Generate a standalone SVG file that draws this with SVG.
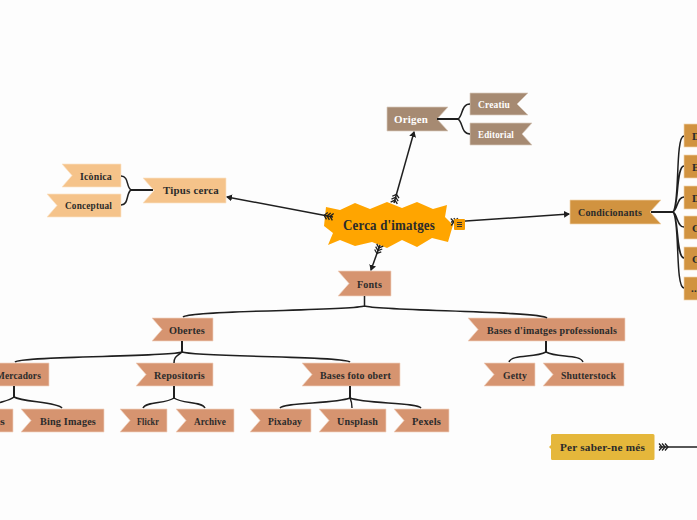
<svg xmlns="http://www.w3.org/2000/svg" width="697" height="520" viewBox="0 0 697 520">
<style>
text{font-family:"Liberation Serif",serif;font-weight:700;font-size:11px;fill:#2b2b2b;letter-spacing:.2px}
.w{fill:#fff}
.big{font-size:15px}
.or{fill:#a68a72;stroke:#d8cabd;stroke-width:.7}
.ti{fill:#f5c38a;stroke:#fbe3c6;stroke-width:.7}
.co{fill:#d19340;stroke:#f0d4ac;stroke-width:.7}
.fo{fill:#d69470;stroke:#f1d2c0;stroke-width:.7}
.ln{fill:none;stroke:#1f1f1f;stroke-width:1.5}
.tr{fill:none;stroke:#1f1f1f;stroke-width:2}
.ar{fill:none;stroke:#1f1f1f;stroke-width:1.5;marker-start:url(#fe);marker-end:url(#ah)}
</style>
<defs>
<marker id="ah" markerUnits="userSpaceOnUse" markerWidth="8" markerHeight="8" refX="5" refY="3.5" orient="auto"><path d="M0 0L6 3.500L0 7Z" fill="#1f1f1f"/></marker>
<marker id="fe" markerUnits="userSpaceOnUse" markerWidth="12" markerHeight="10" refX="1" refY="5" orient="auto"><path d="M1 1.500L4 5L1 8.500M4 1.500L7 5L4 8.500M7 1.500L10 5L7 8.500" fill="none" stroke="#1f1f1f" stroke-width="1.300"/></marker>
</defs>
<rect width="697" height="520" fill="#fdfdfd"/>
<g id="central">
<polygon points="324,226 326,207 340,210 355,203 370,209 387,202 402,208 417,202 433,209 447,205 445,217 453,225 448,242 432,238 417,247 402,240 387,248 372,242 355,246 340,240 328,245 333,233" fill="#ffa500"/>
<text class="big" x="343" y="230" textLength="92" lengthAdjust="spacingAndGlyphs">Cerca d'imatges</text>
</g>
<g id="origen"><polygon class="or" points="387,107 448,107 437,119 448,131 387,131"/><text class="w" x="394" y="123" textLength="34" lengthAdjust="spacingAndGlyphs">Origen</text></g>
<g id="creatiu"><polygon class="or" points="470,93 528,93 517,104 528,115 470,115"/><text class="w" x="478" y="108" textLength="32" lengthAdjust="spacingAndGlyphs">Creatiu</text></g>
<g id="editorial"><polygon class="or" points="470,123 532,123 522,134 532,145 470,145"/><text class="w" x="478" y="138" textLength="36" lengthAdjust="spacingAndGlyphs">Editorial</text></g>
<g id="tipus"><polygon class="ti" points="143,178 226,178 226,203 143,203 154,190.500"/><text x="163" y="194" textLength="56" lengthAdjust="spacingAndGlyphs">Tipus cerca</text></g>
<g id="iconica"><polygon class="ti" points="62,164 121,164 121,187 62,187 72,175.500"/><text x="80" y="180" textLength="32" lengthAdjust="spacingAndGlyphs">Icònica</text></g>
<g id="conceptual"><polygon class="ti" points="47,194 121,194 121,217 47,217 57,205.500"/><text x="65" y="209" textLength="47" lengthAdjust="spacingAndGlyphs">Conceptual</text></g>
<g id="condicionants"><polygon class="co" points="570,200 661,200 650,212 661,224 570,224"/><text x="578" y="216" textLength="64" lengthAdjust="spacingAndGlyphs">Condicionants</text></g>
<g id="c1"><rect class="co" x="684" y="124" width="20" height="23"/><text x="692" y="140">D</text></g>
<g id="c2"><rect class="co" x="684" y="155" width="20" height="23"/><text x="692" y="171">E</text></g>
<g id="c3"><rect class="co" x="684" y="186" width="20" height="23"/><text x="692" y="202">D</text></g>
<g id="c4"><rect class="co" x="684" y="216" width="20" height="23"/><text x="692" y="232">C</text></g>
<g id="c5"><rect class="co" x="684" y="247" width="20" height="23"/><text x="692" y="263">C</text></g>
<g id="c6"><rect class="co" x="684" y="277" width="20" height="23"/><text x="691" y="292">...</text></g>
<g id="fonts"><polygon class="fo" points="338,271 391,271 391,296 338,296 349,283.500"/><text x="357" y="288" textLength="25" lengthAdjust="spacingAndGlyphs">Fonts</text></g>
<g id="obertes"><polygon class="fo" points="152,318 213,318 213,341 152,341 162,329.500"/><text x="169" y="334" textLength="36" lengthAdjust="spacingAndGlyphs">Obertes</text></g>
<g id="mercadors"><polygon class="fo" points="-10,363 49,363 49,386 -10,386"/><text x="-4" y="379" textLength="45" lengthAdjust="spacingAndGlyphs">Mercadors</text></g>
<g id="repositoris"><polygon class="fo" points="136,363 213,363 213,386 136,386 146,374.500"/><text x="154" y="379" textLength="51" lengthAdjust="spacingAndGlyphs">Repositoris</text></g>
<g id="basesfoto"><polygon class="fo" points="302,363 400,363 400,386 302,386 312,374.500"/><text x="320" y="379" textLength="71" lengthAdjust="spacingAndGlyphs">Bases foto obert</text></g>
<g id="cropped"><polygon class="fo" points="-10,409 13,409 13,432 -10,432"/><text x="0" y="425" textLength="5" lengthAdjust="spacingAndGlyphs">s</text></g>
<g id="bing"><polygon class="fo" points="21,409 104,409 104,432 21,432 31,420.500"/><text x="40" y="425" textLength="56" lengthAdjust="spacingAndGlyphs">Bing Images</text></g>
<g id="flickr"><polygon class="fo" points="120,409 167,409 167,432 120,432 130,420.500"/><text x="137" y="425" textLength="22" lengthAdjust="spacingAndGlyphs">Flickr</text></g>
<g id="archive"><polygon class="fo" points="176,409 234,409 234,432 176,432 186,420.500"/><text x="194" y="425" textLength="32" lengthAdjust="spacingAndGlyphs">Archive</text></g>
<g id="pixabay"><polygon class="fo" points="250,409 311,409 311,432 250,432 260,420.500"/><text x="268" y="425" textLength="34" lengthAdjust="spacingAndGlyphs">Pixabay</text></g>
<g id="unsplash"><polygon class="fo" points="319,409 386,409 386,432 319,432 329,420.500"/><text x="337" y="425" textLength="41" lengthAdjust="spacingAndGlyphs">Unsplash</text></g>
<g id="pexels"><polygon class="fo" points="394,409 449,409 449,432 394,432 404,420.500"/><text x="412" y="425" textLength="29" lengthAdjust="spacingAndGlyphs">Pexels</text></g>
<g id="basesprof"><polygon class="fo" points="468,318 625,318 625,341 468,341 478,329.500"/><text x="487" y="334" textLength="130" lengthAdjust="spacingAndGlyphs">Bases d'imatges professionals</text></g>
<g id="getty"><polygon class="fo" points="484,363 535,363 535,386 484,386 494,374.500"/><text x="503" y="379" textLength="24" lengthAdjust="spacingAndGlyphs">Getty</text></g>
<g id="shutterstock"><polygon class="fo" points="543,363 624,363 624,386 543,386 553,374.500"/><text x="561" y="379" textLength="55" lengthAdjust="spacingAndGlyphs">Shutterstock</text></g>
<g id="persaber"><path d="M552.500 434H653a1.500 1.500 0 0 1 1.500 1.500V458.500a1.500 1.500 0 0 1-1.500 1.500H552.500a1.500 1.500 0 0 1-1.500-1.500V449L549 447L551 445V435.500a1.500 1.500 0 0 1 1.500-1.500Z" fill="#e5b73b"/><text x="560" y="451" textLength="85" lengthAdjust="spacingAndGlyphs">Per saber-ne més</text></g>
<g id="connectors">
<path class="ar" d="M394 203L414 132"/>
<path class="ar" d="M333 217L227 197"/>
<path class="ar" d="M380 245L371 270"/>
<path class="ar" d="M451 222L569 214"/>
<path class="tr" d="M437 119H458"/>
<path class="ln" d="M458 119C463 116 461 104 470 104M458 119C463 122 461 134 470 134"/>
<path class="tr" d="M153 190H131"/>
<path class="ln" d="M131 190C126 187 129 176 121 176M131 190C126 193 129 205 121 205"/>
<path class="tr" d="M651 212H673"/>
<path class="ln" d="M673 212C680 205 675 136 684 136M673 212C679 207 676 166 684 166M673 212C678 209 677 197 684 197M673 212C678 215 677 227 684 227M673 212C679 217 676 258 684 258M673 212C680 219 675 288 684 288"/>
<path class="ln" d="M364.500 296V306C350 311 190 310 183 317M364.500 306C380 311 540 311 547 318"/>
<path class="tr" d="M182 341V352"/>
<path class="ln" d="M182 352C170 357 20 356 15 362M182 352C178 356 174 356 174 363M182 352C195 357 345 356 350 362"/>
<path class="tr" d="M14 386V397"/>
<path class="ln" d="M14 397C8 402 -6 402 -10 408M14 397C22 402 58 402 62 408"/>
<path class="tr" d="M174 386V398"/>
<path class="ln" d="M174 398C166 404 146 401 143 408M174 398C182 404 202 401 205 408"/>
<path class="tr" d="M350 386V398"/>
<path class="ln" d="M350 398C335 404 284 402 280 408M350 398C352 402 352 404 352 408M350 398C365 404 417 402 421 408"/>
<path class="tr" d="M546 341V352"/>
<path class="ln" d="M546 352C535 358 512 354 509 362M546 352C557 358 580 354 583 362"/>
<path class="ln" d="M659 447H697" style="marker-start:url(#fe)"/>
</g>
<g id="note-icon">
<rect x="454" y="219" width="11" height="11" rx="1" fill="#f59b00"/>
<path d="M457 222.500h5M457 224.500h5M457 226.500h5" stroke="#333" stroke-width="1"/>
</g>
</svg>
